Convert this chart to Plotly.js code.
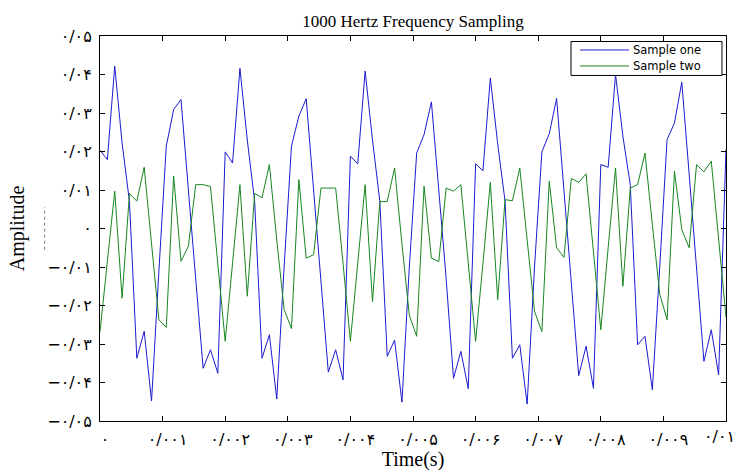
<!DOCTYPE html>
<html>
<head>
<meta charset="utf-8">
<script src="https://cdn.plot.ly/plotly-3.0.1.min.js"></script>
<style>html,body{margin:0;padding:0;background:#fff;}#chart{width:737px;height:471px;}</style>
</head>
<body>
<div id="chart"></div>
<script>
// Sampling: 8500 samples per second, starting at t = 0 (0.01 s shown)
const sampleStart = 0;
const sampleInterval = 1 / 8500;

const sampleOne = [
  0.0203, 0.0179, 0.0422, 0.0222, 0.0070, -0.0337, -0.0267, -0.0448, -0.0110, 0.0214,
  0.0309, 0.0335, 0.0100, -0.0130, -0.0363, -0.0315, -0.0376, 0.0199, 0.0170, 0.0416,
  0.0230, 0.0070, -0.0337, -0.0276, -0.0443, -0.0100, 0.0214, 0.0292, 0.0337, 0.0100,
  -0.0130, -0.0373, -0.0315, -0.0393, 0.0188, 0.0168, 0.0409, 0.0230, 0.0070, -0.0332,
  -0.0290, -0.0451, -0.0100, 0.0196, 0.0244, 0.0329, 0.0100, -0.0130, -0.0389, -0.0319,
  -0.0416, 0.0168, 0.0150, 0.0391, 0.0220, 0.0071, -0.0337, -0.0302, -0.0456, -0.0100,
  0.0199, 0.0246, 0.0338, 0.0100, -0.0130, -0.0382, -0.0306, -0.0415, 0.0166, 0.0159,
  0.0400, 0.0240, 0.0114, -0.0302, -0.0280, -0.0419, -0.0100, 0.0231, 0.0274, 0.0380,
  0.0140, -0.0100, -0.0345, -0.0263, -0.0380, 0.0205
];

const sampleTwo = [
  -0.0268, -0.0080, 0.0097, -0.0181, 0.0091, 0.0071, 0.0159, -0.0040, -0.0237, -0.0257,
  0.0136, -0.0085, -0.0046, 0.0114, 0.0114, 0.0109, -0.0090, -0.0293, -0.0090, 0.0114,
  -0.0176, 0.0091, 0.0080, 0.0166, -0.0030, -0.0210, -0.0260, 0.0127, -0.0077, -0.0068,
  0.0105, 0.0105, 0.0105, -0.0090, -0.0293, -0.0090, 0.0114, -0.0190, 0.0070, 0.0070,
  0.0157, -0.0040, -0.0225, -0.0280, 0.0110, -0.0077, -0.0086, 0.0105, 0.0097, 0.0114,
  -0.0090, -0.0293, -0.0090, 0.0120, -0.0185, 0.0075, 0.0072, 0.0157, -0.0030, -0.0215,
  -0.0268, 0.0123, -0.0050, -0.0075, 0.0130, 0.0120, 0.0142, -0.0060, -0.0263, -0.0050,
  0.0157, -0.0150, 0.0105, 0.0114, 0.0196, 0.0010, -0.0170, -0.0237, 0.0149, -0.0003,
  -0.0050, 0.0166, 0.0147, 0.0175, -0.0030, -0.0230
];

const seriesNames = ['Sample one', 'Sample two'];
const seriesColors = ['#1a1ad0', '#17861f'];

const xTickVals = [0, 0.001, 0.002, 0.003, 0.004, 0.005, 0.006, 0.007, 0.008, 0.009, 0.01];
const xTickText = ['۰', '۰/۰۰۱', '۰/۰۰۲', '۰/۰۰۳', '۰/۰۰۴', '۰/۰۰۵', '۰/۰۰۶', '۰/۰۰۷', '۰/۰۰۸', '۰/۰۰۹', '۰/۰۱'];
const yTickVals = [-0.05, -0.04, -0.03, -0.02, -0.01, 0, 0.01, 0.02, 0.03, 0.04, 0.05];
const yTickText = ['−۰/۰۵', '−۰/۰۴', '−۰/۰۳', '−۰/۰۲', '−۰/۰۱', '۰', '۰/۰۱', '۰/۰۲', '۰/۰۳', '۰/۰۴', '۰/۰۵'];

const titleText = '1000 Hertz Frequency Sampling';
const xTitle = 'Time(s)';
const yTitle = 'Amplitude';

const serif = 'Liberation Serif, Times New Roman, DejaVu Sans, serif';
const tickFont = {family: 'DejaVu Sans, sans-serif', size: 16, color: '#000'};

const traces = seriesNames.map((name, i) => ({
  type: 'scatter', mode: 'lines', name: name, x0: sampleStart, dx: sampleInterval,
  y: i === 0 ? sampleOne : sampleTwo, line: {color: seriesColors[i], width: 1},
  showlegend: false
}));

const axisCommon = {
  showline: true, mirror: 'ticks', linecolor: '#000', linewidth: 1,
  ticks: 'inside', ticklen: 5, tickcolor: '#000', tickwidth: 1,
  showgrid: false, zeroline: false, tickfont: tickFont, tickmode: 'array'
};

// the last x tick label sits against the right edge of the figure, as in the reference
const lastX = xTickText.length - 1;
const xAxisLabels = xTickText.map((t, i) => (i === lastX ? '' : t));

// legend box (drawn in paper coordinates, inside the top-right corner)
const legBox = {x0: 0.7524, x1: 0.9936, y0: 0.8975, y1: 0.9857};
const legRowsY = [0.9637, 0.9222];
const legLineX = [0.7668, 0.8450];
const legTextX = 0.8500;

const shapes = [
  {type: 'line', xref: 'paper', yref: 'paper', x0: -0.0885, x1: -0.0885, y0: 0.445, y1: 0.556,
   line: {color: '#7a7a7a', width: 1, dash: 'dot'}},
  {type: 'rect', xref: 'paper', yref: 'paper', x0: legBox.x0, x1: legBox.x1, y0: legBox.y0, y1: legBox.y1,
   line: {color: '#000', width: 1}, fillcolor: '#fff', layer: 'above'}
];
const annotations = [
  {xref: 'paper', yref: 'paper', x: 1.0165, y: -0.0415, xanchor: 'right', yanchor: 'middle',
   text: xTickText[lastX], showarrow: false, borderpad: 0, font: tickFont}
];
seriesNames.forEach((name, i) => {
  shapes.push({type: 'line', xref: 'paper', yref: 'paper', x0: legLineX[0], x1: legLineX[1],
               y0: legRowsY[i], y1: legRowsY[i], line: {color: seriesColors[i], width: 1}, layer: 'above'});
  annotations.push({xref: 'paper', yref: 'paper', x: legTextX, y: legRowsY[i], xanchor: 'left', yanchor: 'middle',
                    text: name, showarrow: false, borderpad: 0,
                    font: {family: 'DejaVu Sans, sans-serif', size: 11.5, color: '#000'}});
});

const layout = {
  width: 737, height: 471,
  paper_bgcolor: '#fff', plot_bgcolor: '#fff',
  margin: {l: 100, r: 11, t: 36, b: 50, pad: 0},
  title: {text: titleText, font: {family: serif, size: 17, color: '#000'},
          x: 0.5, xref: 'paper', y: 0.955, yref: 'container', yanchor: 'middle'},
  xaxis: Object.assign({}, axisCommon, {
    range: [0, 0.01], tickvals: xTickVals, ticktext: xAxisLabels,
    ticklabelstandoff: 4, ticklabelshift: 5,
    title: {text: xTitle, font: {family: serif, size: 20, color: '#000'}, standoff: 8}
  }),
  yaxis: Object.assign({}, axisCommon, {
    range: [-0.05, 0.05], tickvals: yTickVals, ticktext: yTickText,
    ticklabelstandoff: 4,
    title: {text: yTitle, font: {family: serif, size: 20, color: '#000'}, standoff: 17}
  }),
  showlegend: false,
  shapes: shapes,
  annotations: annotations
};

Plotly.newPlot('chart', traces, layout, {displayModeBar: false, staticPlot: true});
</script>
</body>
</html>
